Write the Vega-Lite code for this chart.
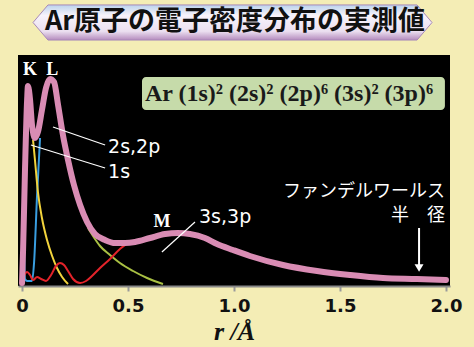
{
  "$schema": "https://vega.github.io/schema/vega-lite/v6.json",
  "width": 432,
  "height": 231,
  "autosize": {"type": "none"},
  "padding": {"left": 18, "top": 55, "right": 24, "bottom": 61},
  "background": "#f4edb5",
  "config": {"view": {"fill": "#000000", "stroke": null}},
  "datasets": {
    "pink": [
      {"r": 0, "v": 1}, {"r": 0.005, "v": 34}, {"r": 0.014, "v": 114}, {"r": 0.024, "v": 184}, {"r": 0.028, "v": 198},
      {"r": 0.038, "v": 184}, {"r": 0.047, "v": 159}, {"r": 0.061, "v": 146}, {"r": 0.075, "v": 152}, {"r": 0.094, "v": 174},
      {"r": 0.113, "v": 196}, {"r": 0.132, "v": 205}, {"r": 0.151, "v": 202}, {"r": 0.17, "v": 179}, {"r": 0.193, "v": 149},
      {"r": 0.217, "v": 124}, {"r": 0.245, "v": 99}, {"r": 0.274, "v": 79}, {"r": 0.307, "v": 62}, {"r": 0.344, "v": 50},
      {"r": 0.392, "v": 44}, {"r": 0.439, "v": 41}, {"r": 0.486, "v": 41}, {"r": 0.533, "v": 42}, {"r": 0.604, "v": 46},
      {"r": 0.675, "v": 50}, {"r": 0.736, "v": 51}, {"r": 0.792, "v": 50}, {"r": 0.863, "v": 46}, {"r": 0.92, "v": 40},
      {"r": 0.995, "v": 34}, {"r": 1.075, "v": 28}, {"r": 1.231, "v": 19}, {"r": 1.392, "v": 13}, {"r": 1.547, "v": 9},
      {"r": 1.703, "v": 6}, {"r": 1.863, "v": 5}, {"r": 2.0, "v": 4}
    ],
    "blue": [
      {"r": 0.009, "v": 44}, {"r": 0.014, "v": 5}, {"r": 0.024, "v": 3}, {"r": 0.047, "v": 3},
      {"r": 0.057, "v": 22}, {"r": 0.071, "v": 89}, {"r": 0.085, "v": 146}
    ],
    "yellow": [
      {"r": 0.052, "v": 144}, {"r": 0.061, "v": 124}, {"r": 0.075, "v": 92}, {"r": 0.094, "v": 66}, {"r": 0.118, "v": 44},
      {"r": 0.142, "v": 28}, {"r": 0.165, "v": 16}, {"r": 0.189, "v": 7}, {"r": 0.217, "v": 0}
    ],
    "green": [
      {"r": 0.311, "v": 56}, {"r": 0.344, "v": 45}, {"r": 0.368, "v": 38}, {"r": 0.415, "v": 29}, {"r": 0.462, "v": 21},
      {"r": 0.524, "v": 13}, {"r": 0.59, "v": 6}, {"r": 0.665, "v": 0}
    ],
    "red": [
      {"r": 0, "v": 2}, {"r": 0.009, "v": 8}, {"r": 0.024, "v": 12}, {"r": 0.038, "v": 9}, {"r": 0.052, "v": 4},
      {"r": 0.071, "v": 7}, {"r": 0.09, "v": 5}, {"r": 0.113, "v": 3}, {"r": 0.137, "v": 9}, {"r": 0.16, "v": 18},
      {"r": 0.179, "v": 21}, {"r": 0.198, "v": 19}, {"r": 0.217, "v": 13}, {"r": 0.241, "v": 5}, {"r": 0.274, "v": 1},
      {"r": 0.302, "v": 3}, {"r": 0.33, "v": 8}, {"r": 0.368, "v": 16}, {"r": 0.415, "v": 25}, {"r": 0.462, "v": 35},
      {"r": 0.509, "v": 42}, {"r": 0.557, "v": 44}
    ],
    "leaders": [
      {"r": 0.146, "v": 157, "r2": 0.392, "v2": 139},
      {"r": 0.042, "v": 139, "r2": 0.392, "v2": 116},
      {"r": 0.66, "v": 32, "r2": 0.816, "v2": 62}
    ],
    "arrow": [{"r": 1.873, "v": 56, "r2": 1.873, "v2": 16}],
    "arrowhead": [{"r": 1.873, "v": 16}],
    "shells": [
      {"r": 0.038, "v": 214, "t": "K"}, {"r": 0.142, "v": 214, "t": "L"}, {"r": 0.66, "v": 62, "t": "M"}
    ],
    "orbitals": [
      {"r": 0.406, "v": 137, "t": "2s,2p"}, {"r": 0.406, "v": 112, "t": "1s"}, {"r": 0.835, "v": 67, "t": "3s,3p"}
    ],
    "jp": [
      {"r": 1.995, "v": 92, "t": "ファンデルワールス"}, {"r": 1.995, "v": 68, "t": "半　径"}
    ],
    "box": [{"r": 0.566, "r2": 1.995, "v": 207, "v2": 174}],
    "formula": [{"r": 0.58, "v": 190, "t": "Ar (1s)² (2s)² (2p)⁶ (3s)² (3p)⁶"}],
    "banner": [{"r": 0.993, "v": 261.5}],
    "title": [{"r": 1.005, "v": 262, "t": "Ar原子の電子密度分布の実測値"}]
  },
  "encoding": {
    "x": {
      "field": "r", "type": "quantitative",
      "scale": {"domain": [-0.019, 2.019], "nice": false, "zero": false},
      "axis": {
        "values": [0, 0.5, 1, 1.5, 2],
        "labelExpr": "datum.value == 0 ? '0' : format(datum.value, '.1f')",
        "labelFont": "DejaVu Sans", "labelFontWeight": "bold", "labelFontSize": 18, "labelColor": "#111111",
        "labelPadding": 6, "labelFlush": false,
        "tickColor": "#9a9a9a", "tickSize": 5, "tickWidth": 2,
        "domainColor": "#8a8a8a", "domainWidth": 2, "grid": false,
        "title": "r /Å", "titleFont": "Liberation Serif", "titleFontStyle": "italic", "titleFontWeight": "bold",
        "titleFontSize": 26, "titleColor": "#111111", "titlePadding": 3
      }
    },
    "y": {"field": "v", "type": "quantitative", "scale": {"domain": [-2, 229], "nice": false}, "axis": null}
  },
  "layer": [
    {
      "data": {"name": "banner"},
      "mark": {
        "type": "point", "filled": true, "size": 159201, "opacity": 1,
        "shape": "M -1 0 L -0.925 -0.088 L 0.925 -0.088 L 1 0 L 0.925 0.088 L -0.925 0.088 Z",
        "color": {"gradient": "linear", "x1": 0, "y1": 0, "x2": 0, "y2": 1,
          "stops": [{"offset": 0, "color": "#bcd3ec"}, {"offset": 0.3, "color": "#f7f3fb"}, {"offset": 0.75, "color": "#ebdff0"}, {"offset": 1, "color": "#b58cbe"}]},
        "stroke": "#a88ab8", "strokeWidth": 1
      }
    },
    {
      "data": {"name": "title"},
      "mark": {"type": "text", "font": "Noto Sans CJK JP", "fontWeight": "bold", "fontSize": 27, "color": "#111111", "align": "center", "baseline": "middle"},
      "encoding": {"text": {"field": "t"}}
    },
    {
      "data": {"name": "box"},
      "mark": {"type": "rect", "color": "#c6dbaa", "cornerRadius": 4},
      "encoding": {"x2": {"field": "r2"}, "y2": {"field": "v2"}}
    },
    {
      "data": {"name": "formula"},
      "mark": {"type": "text", "font": "Liberation Serif", "fontWeight": "bold", "fontSize": 24, "color": "#1a1a1a", "align": "left", "baseline": "middle"},
      "encoding": {"text": {"field": "t"}}
    },
    {
      "data": {"name": "blue"},
      "mark": {"type": "line", "color": "#3a9ee0", "strokeWidth": 2, "interpolate": "monotone"}
    },
    {
      "data": {"name": "yellow"},
      "mark": {"type": "line", "color": "#f2d33c", "strokeWidth": 2, "interpolate": "monotone"}
    },
    {
      "data": {"name": "green"},
      "mark": {"type": "line", "color": "#a9c043", "strokeWidth": 2, "interpolate": "monotone"}
    },
    {
      "data": {"name": "red"},
      "mark": {"type": "line", "color": "#e3232a", "strokeWidth": 2, "interpolate": "monotone"}
    },
    {
      "data": {"name": "pink"},
      "mark": {"type": "line", "color": "#d98cb4", "strokeWidth": 6, "interpolate": "monotone", "strokeCap": "round", "strokeJoin": "round"}
    },
    {
      "data": {"name": "leaders"},
      "mark": {"type": "rule", "color": "#ffffff", "strokeWidth": 1.2},
      "encoding": {"x2": {"field": "r2"}, "y2": {"field": "v2"}}
    },
    {
      "data": {"name": "arrow"},
      "mark": {"type": "rule", "color": "#ffffff", "strokeWidth": 2},
      "encoding": {"x2": {"field": "r2"}, "y2": {"field": "v2"}}
    },
    {
      "data": {"name": "arrowhead"},
      "mark": {"type": "point", "shape": "triangle-down", "filled": true, "size": 80, "color": "#ffffff", "opacity": 1}
    },
    {
      "data": {"name": "shells"},
      "mark": {"type": "text", "font": "Liberation Serif", "fontWeight": "bold", "fontSize": 18, "color": "#ffffff", "align": "center", "baseline": "middle"},
      "encoding": {"text": {"field": "t"}}
    },
    {
      "data": {"name": "orbitals"},
      "mark": {"type": "text", "font": "DejaVu Sans", "fontSize": 19, "color": "#ffffff", "align": "left", "baseline": "middle"},
      "encoding": {"text": {"field": "t"}}
    },
    {
      "data": {"name": "jp"},
      "mark": {"type": "text", "font": "Noto Sans CJK JP", "fontSize": 18, "color": "#ffffff", "align": "right", "baseline": "middle"},
      "encoding": {"text": {"field": "t"}}
    }
  ]
}
